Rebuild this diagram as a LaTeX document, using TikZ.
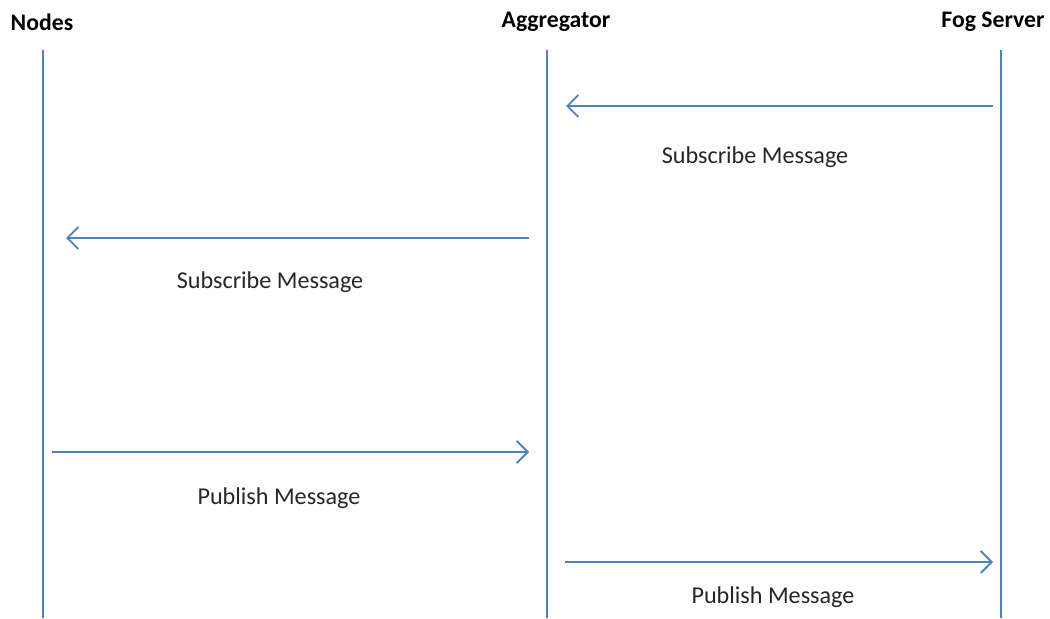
\documentclass[tikz,border=0pt]{standalone}
\usepackage{fontspec}
\setmainfont{Carlito}
\usetikzlibrary{arrows.meta}
\definecolor{lineblue}{HTML}{4F81BD}
\tikzset{
  lifeline/.style={lineblue, line width=1.1pt},
  msg/.style={lineblue, line width=1.1pt, -{Straight Barb[length=2.2mm,width=4.4mm]}},
  head/.style={font=\fontsize{13.5}{15}\selectfont\bfseries, text=black},
  label/.style={font=\fontsize{13.75}{15}\selectfont, text=black!85}
}

\begin{document}
\begin{tikzpicture}[x=0.02cm, y=-0.02cm]
\useasboundingbox (0,0) rectangle (1050,618);
% heads
\node[head] (nodes) at (42,22) {Nodes};
\node[head] (aggr) at (556,22) {Aggregator};
\node[head] (fog) at (993,22) {Fog Server};
% lifelines
\coordinate (nodesTop) at (43,50);   \coordinate (nodesBot) at (43,618);
\coordinate (aggrTop) at (547,50);   \coordinate (aggrBot) at (547,618);
\coordinate (fogTop) at (1001,50);   \coordinate (fogBot) at (1001,618);
\draw[lifeline] (nodesTop) -- (nodesBot);
\draw[lifeline] (aggrTop) -- (aggrBot);
\draw[lifeline] (fogTop) -- (fogBot);
% messages
\coordinate (s1a) at (993,106); \coordinate (s1b) at (566,106);
\coordinate (s2a) at (529,238); \coordinate (s2b) at (66,238);
\coordinate (p1a) at (52,452);  \coordinate (p1b) at (529,452);
\coordinate (p2a) at (565,562); \coordinate (p2b) at (993,562);
\draw[msg] (s1a) -- (s1b);
\draw[msg] (s2a) -- (s2b);
\draw[msg] (p1a) -- (p1b);
\draw[msg] (p2a) -- (p2b);
\node[label] (subAggr) at (755,157) {Subscribe Message};
\node[label] (subNodes) at (270,282) {Subscribe Message};
\node[label] (pubAggr) at (279,498) {Publish Message};
\node[label] (pubFog) at (773,597) {Publish Message};
\end{tikzpicture}
\end{document}
